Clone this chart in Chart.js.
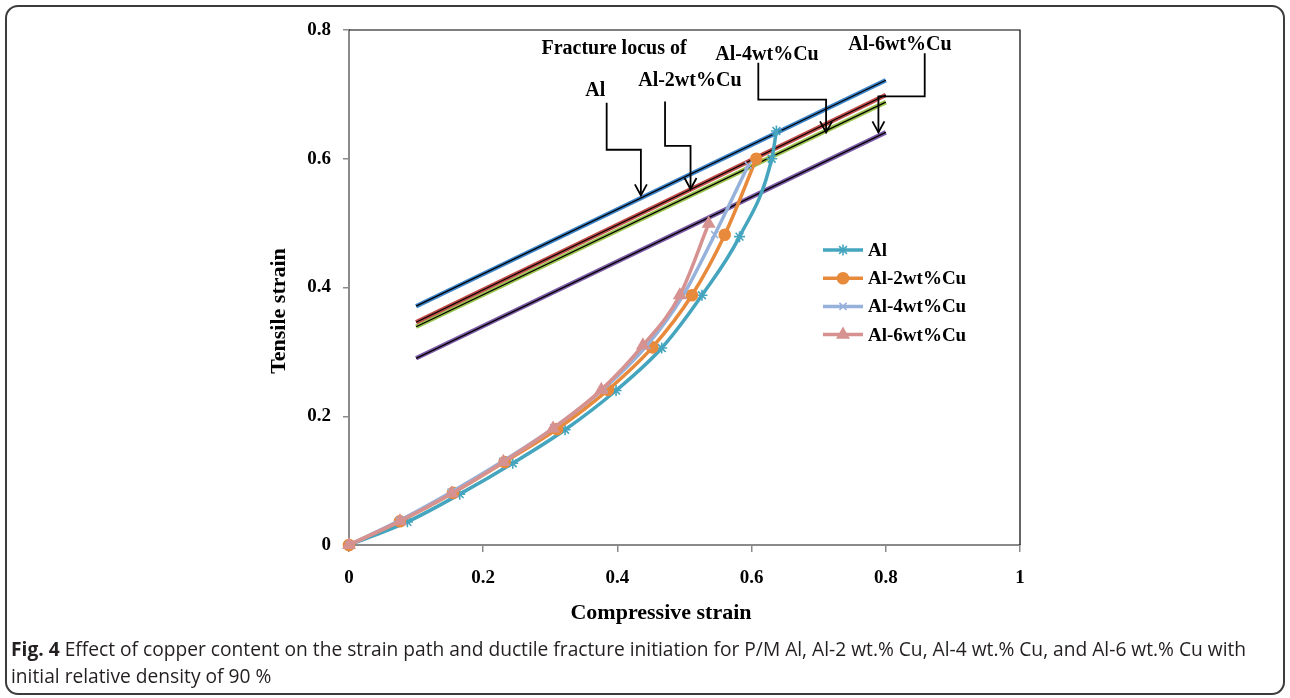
<!DOCTYPE html>
<html><head><meta charset="utf-8">
<script src="https://cdn.jsdelivr.net/npm/chart.js@4.4.0/dist/chart.umd.min.js"></script>
<style>
html,body{margin:0;padding:0;background:#fff;}
body{width:1290px;height:698px;position:relative;overflow:hidden;}
#frame{position:absolute;left:5px;top:5px;width:1276px;height:686px;border:2px solid #3c3c3c;border-radius:13px;}
#wrap{position:absolute;left:0;top:0;width:1290px;height:698px;}
#cap{position:absolute;left:11px;top:635px;font-family:"Open Sans";font-size:19.2px;line-height:27px;color:#231f20;white-space:nowrap;}
#cap b{font-weight:700;}
</style></head>
<body>
<div id="frame"></div>
<div id="wrap"><canvas id="c" width="1290" height="698"></canvas></div>
<div id="cap"><b>Fig. 4</b> Effect of copper content on the strain path and ductile fracture initiation for P/M Al, Al-2 wt.% Cu, Al-4 wt.% Cu, and Al-6 wt.% Cu with<br>initial relative density of 90 %</div>
<script>
// ---- data ----
const seriesNames = ['Al', 'Al-2wt%Cu', 'Al-4wt%Cu', 'Al-6wt%Cu'];
const alX  = [0, 0.087, 0.165, 0.244, 0.322, 0.398, 0.466, 0.526, 0.582, 0.630, 0.637];
const alY  = [0, 0.036, 0.079, 0.127, 0.179, 0.240, 0.306, 0.388, 0.479, 0.600, 0.643];
const al2X = [0, 0.076, 0.155, 0.232, 0.310, 0.386, 0.452, 0.511, 0.560, 0.607];
const al2Y = [0, 0.037, 0.081, 0.129, 0.180, 0.241, 0.307, 0.388, 0.482, 0.600];
const al4X = [0, 0.075, 0.152, 0.229, 0.305, 0.380, 0.444, 0.498, 0.545, 0.595];
const al4Y = [0, 0.038, 0.082, 0.130, 0.182, 0.243, 0.310, 0.388, 0.482, 0.590];
const al6X = [0, 0.076, 0.153, 0.230, 0.304, 0.376, 0.438, 0.493, 0.536];
const al6Y = [0, 0.037, 0.080, 0.129, 0.181, 0.241, 0.310, 0.388, 0.499];
// fracture loci (straight lines)
const locusX   = [0.1, 0.8];
const locusAl  = [0.371, 0.722];
const locusAl2 = [0.346, 0.699];
const locusAl4 = [0.339, 0.688];
const locusAl6 = [0.290, 0.641];
// ticks
const xTicks = [0, 0.2, 0.4, 0.6, 0.8, 1];
const yTicks = [0, 0.2, 0.4, 0.6, 0.8];
// annotation texts
const annoTexts = ['Fracture locus of', 'Al', 'Al-2wt%Cu', 'Al-4wt%Cu', 'Al-6wt%Cu'];

// ---- styling ----
const pathColors = ['#45A5BF', '#E88A3C', '#96B1DA', '#D69291'];
const pathStyles = ['star', 'circle', 'crossRot', 'triangle'];
const pathRadii = [5.5, 5.5, 5, 6.5];
const locusColors = ['#3C83C8', '#C04B48', '#9CC44E', '#7D5BA6'];
const serif = '"Liberation Serif", "Times New Roman", serif';

const zip = (xs, ys) => xs.map((x, i) => ({x: x, y: ys[i]}));
const pathData = [zip(alX, alY), zip(al2X, al2Y), zip(al4X, al4Y), zip(al6X, al6Y)];
const locusData = [locusAl, locusAl2, locusAl4, locusAl6].map(ys => zip(locusX, ys));

const datasets = [];
pathData.forEach((d, i) => {
  datasets.push({
    label: seriesNames[i], data: d, showLine: true,
    borderColor: pathColors[i], backgroundColor: pathColors[i],
    borderWidth: 3.5, pointStyle: pathStyles[i], pointRadius: pathRadii[i],
    pointBorderColor: pathColors[i], pointBackgroundColor: pathColors[i], pointBorderWidth: 1.6,
    cubicInterpolationMode: 'monotone', clip: false, order: 1 + (3 - i) * 0.1
  });
});
locusData.forEach((d, i) => {
  datasets.push({
    label: 'locus ' + seriesNames[i], data: d, showLine: true,
    borderColor: locusColors[i], borderWidth: 4.5, pointRadius: 0, order: 20 + i * 2
  });
  datasets.push({
    label: 'locus core ' + seriesNames[i], data: d, showLine: true,
    borderColor: '#000', borderWidth: 1.3, pointRadius: 0, order: 19 + i * 2
  });
});

// annotation placement (data units)
const annoPos = [[0.395, 0.771], [0.367, 0.706], [0.508, 0.721], [0.623, 0.762], [0.821, 0.777]];
const callouts = [
  [[0.384, 0.687], [0.384, 0.614], [0.435, 0.614], [0.435, 0.543]],
  [[0.471, 0.689], [0.471, 0.620], [0.509, 0.620], [0.509, 0.553]],
  [[0.610, 0.749], [0.610, 0.692], [0.711, 0.692], [0.711, 0.641]],
  [[0.858, 0.764], [0.858, 0.697], [0.789, 0.697], [0.789, 0.641]]
];

const fmt = v => String(Math.round(v * 10) / 10);

const decor = {
  id: 'decor',
  beforeDatasetsDraw(chart) {
    const a = chart.chartArea, ctx = chart.ctx;
    ctx.save();
    ctx.strokeStyle = '#000'; ctx.lineWidth = 1.2;
    ctx.beginPath();
    ctx.moveTo(a.left, a.top); ctx.lineTo(a.right, a.top); ctx.lineTo(a.right, a.bottom);
    ctx.stroke();
    ctx.restore();
  },
  afterDraw(chart) {
    const ctx = chart.ctx, xs = chart.scales.x, ys = chart.scales.y, a = chart.chartArea;
    ctx.save();
    // axis titles
    ctx.fillStyle = '#000';
    ctx.font = 'bold 22px ' + serif;
    ctx.textAlign = 'center'; ctx.textBaseline = 'middle';
    ctx.fillText('Compressive strain', a.left + 312, a.bottom + 68);
    ctx.save();
    ctx.translate(a.left - 70, a.top + 281);
    ctx.rotate(-Math.PI / 2);
    ctx.fillText('Tensile strain', 0, 0);
    ctx.restore();
    // callouts
    ctx.strokeStyle = '#000'; ctx.lineWidth = 1.8; ctx.lineJoin = 'miter';
    callouts.forEach(p => {
      ctx.beginPath();
      p.forEach((pt, k) => {
        const px = xs.getPixelForValue(pt[0]), py = ys.getPixelForValue(pt[1]);
        if (k === 0) ctx.moveTo(px, py); else ctx.lineTo(px, py);
      });
      ctx.stroke();
      const last = p[p.length - 1];
      const ex = xs.getPixelForValue(last[0]), ey = ys.getPixelForValue(last[1]);
      ctx.beginPath();
      ctx.moveTo(ex - 6, ey - 11); ctx.lineTo(ex, ey); ctx.lineTo(ex + 6, ey - 11);
      ctx.stroke();
    });
    // annotation labels
    ctx.font = 'bold 20px ' + serif;
    annoTexts.forEach((t, i) => {
      ctx.fillText(t, xs.getPixelForValue(annoPos[i][0]), ys.getPixelForValue(annoPos[i][1]));
    });
    // legend
    ctx.font = 'bold 19px ' + serif;
    ctx.textAlign = 'left';
    const lx = a.left + 474, ly = a.top + 220;
    for (let i = 0; i < 4; i++) {
      const y = ly + i * 28.2;
      ctx.strokeStyle = pathColors[i]; ctx.lineWidth = 3.5;
      ctx.beginPath(); ctx.moveTo(lx, y); ctx.lineTo(lx + 40, y); ctx.stroke();
      ctx.fillStyle = pathColors[i]; ctx.strokeStyle = pathColors[i]; ctx.lineWidth = 1.6;
      Chart.helpers.drawPoint(ctx, {pointStyle: pathStyles[i], radius: pathRadii[i], borderWidth: 1.6, rotation: 0}, lx + 20, y);
      ctx.fillStyle = '#000';
      ctx.fillText(seriesNames[i], lx + 45, y + 1);
    }
    ctx.restore();
  }
};

const tickFont = {family: serif, size: 19, weight: 'bold'};
new Chart(document.getElementById('c'), {
  type: 'scatter',
  data: {datasets: datasets},
  options: {
    responsive: false, animation: false,
    layout: {padding: {left: 289, right: 270, top: 30, bottom: 93}},
    plugins: {legend: {display: false}, tooltip: {enabled: false}},
    scales: {
      x: {
        type: 'linear', min: 0, max: 1,
        afterBuildTicks: s => { s.ticks = xTicks.map(v => ({value: v})); },
        afterFit: s => { s.height = 60; },
        grid: {display: true, drawOnChartArea: false, drawTicks: true, tickLength: 7, color: '#8a8a8a', lineWidth: 1.5},
        border: {display: true, color: '#8a8a8a', width: 2},
        ticks: {font: tickFont, color: '#000', padding: 15, maxRotation: 0, callback: v => fmt(v)}
      },
      y: {
        type: 'linear', min: 0, max: 0.8,
        afterBuildTicks: s => { s.ticks = yTicks.map(v => ({value: v})); },
        afterFit: s => { s.width = 60; },
        grid: {display: true, drawOnChartArea: false, drawTicks: true, tickLength: 6, color: '#8a8a8a', lineWidth: 1.5},
        border: {display: true, color: '#8a8a8a', width: 2},
        ticks: {font: tickFont, color: '#000', padding: 12, callback: v => fmt(v)}
      }
    }
  },
  plugins: [decor]
});
</script>
</body></html>
